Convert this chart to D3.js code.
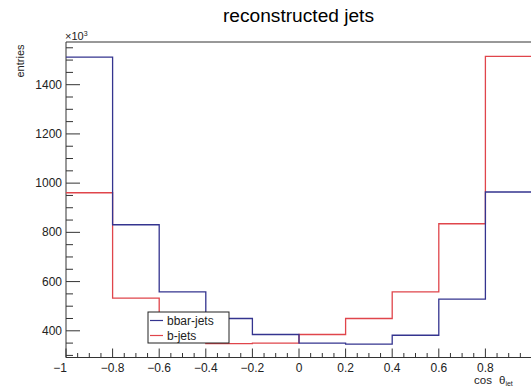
<!DOCTYPE html>
<html>
<head>
<meta charset="utf-8">
<script src="https://cdn.jsdelivr.net/npm/d3@7"></script>
<style>
  body { margin: 0; background: #fff; }
  svg { display: block; font-family: "Liberation Sans", Arial, sans-serif; }
</style>
</head>
<body>
<svg id="chart" width="531" height="386"></svg>
<script>
// bin edges in cos(theta_jet), counts in units of 10^3
const binEdges = [-1, -0.8, -0.6, -0.4, -0.2, 0, 0.2, 0.4, 0.6, 0.8, 1];
const bbarJets = [1512, 831, 558, 450, 385, 350, 346, 382, 529, 964];
const bJets = [961, 533, 383, 348, 350, 385, 450, 558, 835, 1515];
const xTicks = [-1, -0.8, -0.6, -0.4, -0.2, 0, 0.2, 0.4, 0.6, 0.8];
const yTicks = [400, 600, 800, 1000, 1200, 1400];

const svg = d3.select('#chart');
const padL = 66, padR = 532, padT = 42, padB = 357.5;

const x = d3.scaleLinear().domain([-1, 1]).range([padL, padR]);
const y = d3.scaleLinear().domain([291.5, 1573.5]).range([padB, padT]);

// title
svg.append('text')
  .attr('x', 223).attr('y', 21.5)
  .attr('textLength', 151).attr('lengthAdjust', 'spacingAndGlyphs')
  .style('font-size', '17.5px')
  .text('reconstructed jets');

// frame
svg.append('path')
  .attr('d', `M${padL},${padB}V${padT}H${padR}`)
  .attr('fill', 'none').attr('stroke', '#333').attr('stroke-width', 1);
svg.append('line')
  .attr('x1', padL).attr('x2', padR).attr('y1', padB).attr('y2', padB)
  .attr('stroke', '#333');

// histogram step lines
function steps(vals) {
  const pts = [];
  vals.forEach((v, i) => {
    pts.push([x(binEdges[i]), y(v)]);
    pts.push([x(binEdges[i + 1]), y(v)]);
  });
  return d3.line()(pts);
}
svg.append('path').attr('d', steps(bJets))
  .attr('fill', 'none').attr('stroke', '#e0454b').attr('stroke-width', 1.3);
svg.append('path').attr('d', steps(bbarJets))
  .attr('fill', 'none').attr('stroke', '#34348f').attr('stroke-width', 1.3);

// x axis ticks (inward)
const xMinor = d3.range(-1, 1.0001, 0.05);
svg.append('g').selectAll('line').data(xMinor).join('line')
  .attr('x1', d => x(d)).attr('x2', d => x(d))
  .attr('y1', padB)
  .attr('y2', d => Math.abs(Math.round(d * 100) % 20) === 0 ? padB - 9 : padB - 4.5)
  .attr('stroke', '#333');
svg.append('g').selectAll('text').data(xTicks).join('text')
  .attr('x', d => d === -1 ? x(d) - 6 : x(d)).attr('y', 372)
  .attr('text-anchor', 'middle')
  .style('font-size', '12px').attr('fill', '#222')
  .text(d => d3.format('')(d).replace('-', '\u2212'));

// y axis ticks (inward)
const yMinor = d3.range(300, 1573, 50);
svg.append('g').selectAll('line').data(yMinor).join('line')
  .attr('x1', padL)
  .attr('x2', d => d % 200 === 0 ? padL + 14 : padL + 7)
  .attr('y1', d => y(d)).attr('y2', d => y(d))
  .attr('stroke', '#333');
svg.append('g').selectAll('text').data(yTicks).join('text')
  .attr('x', 62).attr('y', d => y(d) + 4)
  .attr('text-anchor', 'end')
  .style('font-size', '12px').attr('fill', '#222')
  .text(d => d);

// exponent label
const ex = svg.append('text').attr('x', 65).attr('y', 40)
  .style('font-size', '11px').attr('fill', '#222');
ex.append('tspan').text('\u00d710');
ex.append('tspan').attr('dy', -4).style('font-size', '7px').text('3');

// axis titles
svg.append('text')
  .attr('transform', 'translate(23.5,61) rotate(-90)')
  .attr('text-anchor', 'middle')
  .style('font-size', '11px').attr('fill', '#222')
  .text('entries');
const xt = svg.append('text').attr('x', 474).attr('y', 384)
  .style('font-size', '11.5px').attr('fill', '#222');
xt.append('tspan').text('cos');
xt.append('tspan').attr('x', 499).text('\u03b8');
xt.append('tspan').attr('dy', 2).style('font-size', '7px').text('jet');

// legend
const lg = svg.append('g').attr('transform', 'translate(148,312)');
lg.append('rect').attr('width', 81).attr('height', 31)
  .attr('fill', '#fff').attr('stroke', '#222').attr('stroke-width', 1);
const legendItems = [
  { name: 'bbar-jets', color: '#34348f' },
  { name: 'b-jets', color: '#e0454b' }
];
legendItems.forEach((d, i) => {
  const yy = 8.5 + i * 15;
  lg.append('line').attr('x1', 2).attr('x2', 15).attr('y1', yy).attr('y2', yy)
    .attr('stroke', d.color).attr('stroke-width', 1.2);
  lg.append('text').attr('x', 19).attr('y', yy + 4.5)
    .style('font-size', '12px').attr('fill', '#222').text(d.name);
});
</script>
</body>
</html>
